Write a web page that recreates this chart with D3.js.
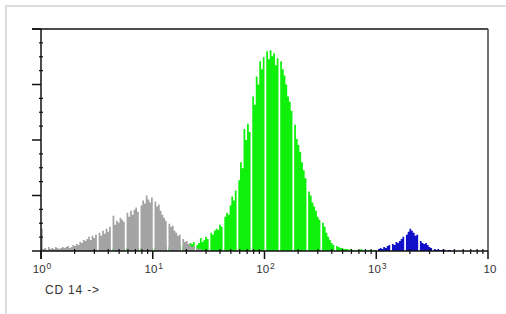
<!DOCTYPE html>
<html>
<head>
<meta charset="utf-8">
<script src="https://cdn.jsdelivr.net/npm/d3@7"></script>
<style>
  body { margin: 0; background: #fff; }
  svg { display: block; }
  text { font-family: "Liberation Sans", Arial, sans-serif; fill: #333; }
</style>
</head>
<body>
<div id="chart"></div>
<script>
// 256 log channels over 4 decades, counts
var channels = 256;
var decades = [1, 10, 100, 1000, 10000];
var axisLabel = "CD 14 ->";

var grayStart = 0;
var grayCounts = [44, 4, 6, 2, 8, 4,
  6, 4, 8, 6, 4, 6, 8,
  6, 8, 10, 6, 8, 12, 10,
  14, 12, 18, 16, 22, 20,
  24, 28, 22, 30, 26, 32, 0,
  36, 30, 40, 34, 44, 38, 48, 0,
  70, 52, 60, 56, 66, 62, 58, 0,
  76, 68, 80, 72, 82, 86, 78, 0,
  90, 100, 94, 110, 102, 96, 106, 0,
  98, 88, 92, 80, 72, 66, 60, 0,
  54, 48, 50, 40, 36, 30, 32, 0,
  24, 18, 20, 14, 12, 8, 10, 0,
  6, 4, 4, 2, 2];

var greenStart = 30;
var greenCounts = [2, 4, 0,
  4, 2, 6, 4, 4, 6, 4, 0,
  6, 4, 6, 4, 6, 6, 4, 0,
  6, 4, 6, 6, 4, 6, 6, 0,
  6, 6, 4, 6, 6, 8, 6, 0,
  6, 8, 6, 8, 8, 6, 10, 0,
  8, 10, 8, 10, 12, 10, 12, 0,
  10, 12, 14, 12, 16, 14, 18, 0,
  12, 16, 26, 18, 22, 28, 24, 0,
  36, 32, 40, 44, 42, 52, 48, 0,
  68, 76, 72, 90, 108, 100, 120, 0,
  140, 176, 164, 242, 220, 252, 236, 0,
  306, 290, 346, 330, 376, 360, 384, 0,
  396, 380, 398, 386, 392, 368, 382, 0,
  376, 360, 348, 330, 306, 296, 278, 0,
  250, 222, 210, 196, 176, 160, 144, 0,
  118, 110, 96, 88, 80, 68, 62, 0,
  56, 48, 36, 28, 22, 16, 12, 0,
  10, 8, 6, 6, 4, 4, 4,
  2, 4, 2, 2, 0, 2, 2, 4, 2, 0, 2, 2, 2, 0, 2, 2, 0];

var blueStart = 193;
var blueCounts = [4, 6, 4, 8, 6, 10, 12, 0,
  14, 12, 18, 16, 20, 24, 28, 0,
  32, 38, 44, 40, 36, 30, 32, 0,
  20, 16, 14, 16, 12, 8, 6, 0,
  4, 2, 4, 2, 2, 4, 2, 0, 2, 2];

var yMax = 440;
var yMajor = [0, 110, 220, 330, 440];

var W = 506, H = 314;
var plotLeft = 41, plotRight = 488, plotTop = 29, plotBottom = 251;

var svg = d3.select("#chart").append("svg")
  .attr("width", W)
  .attr("height", H);

// outer frame
svg.append("path")
  .attr("d", "M6,314V6H506")
  .attr("fill", "none")
  .attr("stroke", "#dcdcdc")
  .attr("stroke-width", 2);

var x = d3.scaleLog().domain([1, 10000]).range([plotLeft, plotRight]);
var y = d3.scaleLinear().domain([0, yMax]).range([plotBottom, plotTop]);

function edge(i) { return Math.pow(10, i * 4 / channels); }

function drawHist(start, counts, color) {
  var pts = counts.map(function (c, k) { return { i: start + k, c: c }; });
  pts.push({ i: start + counts.length, c: 0 });
  var area = d3.area()
    .x(function (d) { return x(edge(d.i)); })
    .y0(y(0))
    .y1(function (d) { return y(d.c); })
    .curve(d3.curveStepAfter);
  svg.append("path")
    .datum(pts)
    .attr("d", area)
    .attr("fill", color);
}

drawHist(greenStart, greenCounts, "#0ff00a");
drawHist(grayStart, grayCounts, "#a3a3a3");
drawHist(blueStart, blueCounts, "#1010c8");

// frame lines: top and right
svg.append("line")
  .attr("x1", plotLeft - 9).attr("x2", plotRight)
  .attr("y1", plotTop).attr("y2", plotTop)
  .attr("stroke", "#111").attr("stroke-width", 1.5);
svg.append("line")
  .attr("x1", plotRight).attr("x2", plotRight)
  .attr("y1", plotTop).attr("y2", plotBottom)
  .attr("stroke", "#444").attr("stroke-width", 1.5);

// x axis: major decades + minor 2..9
var minor = [];
decades.slice(0, -1).forEach(function (d) {
  for (var m = 2; m <= 9; m++) minor.push(d * m);
});

var xAxis = svg.append("g")
  .attr("transform", "translate(0," + plotBottom + ")");
xAxis.append("line")
  .attr("x1", plotLeft).attr("x2", plotRight)
  .attr("stroke", "#111").attr("stroke-width", 1.5);
xAxis.selectAll(".minor")
  .data(minor)
  .enter().append("line")
  .attr("x1", function (d) { return x(d); })
  .attr("x2", function (d) { return x(d); })
  .attr("y1", -2).attr("y2", 3)
  .attr("stroke", "#111").attr("stroke-width", 1.2);
xAxis.selectAll(".major")
  .data(decades)
  .enter().append("line")
  .attr("x1", function (d) { return x(d); })
  .attr("x2", function (d) { return x(d); })
  .attr("y1", 0).attr("y2", 8)
  .attr("stroke", "#111").attr("stroke-width", 1.5);

var labels = xAxis.selectAll(".lab")
  .data(decades)
  .enter().append("text")
  .attr("x", function (d, i) { return x(d) + (i == 4 ? 2 : 1); })
  .attr("y", 22)
  .attr("text-anchor", "middle")
  .style("font-size", "11.5px");
labels.append("tspan").text("10");
labels.filter(function (d, i) { return i < 4; })
  .append("tspan")
  .attr("dy", -4)
  .attr("dx", 1)
  .style("font-size", "8.5px")
  .text(function (d, i) { return i; });

svg.append("text")
  .attr("x", 45)
  .attr("y", 294)
  .style("font-size", "12px")
  .style("letter-spacing", "0.8px")
  .text(axisLabel);

// y axis
var yMinor = [];
for (var k = 0; k < yMajor.length - 1; k++) {
  for (var j = 1; j < 4; j++) yMinor.push(yMajor[k] + j * (yMajor[k + 1] - yMajor[k]) / 4);
}
var yAxis = svg.append("g");
yAxis.append("line")
  .attr("x1", plotLeft).attr("x2", plotLeft)
  .attr("y1", plotTop).attr("y2", plotBottom + 8)
  .attr("stroke", "#111").attr("stroke-width", 1.5);
yAxis.selectAll(".ymajor")
  .data(yMajor)
  .enter().append("line")
  .attr("x1", plotLeft - 9).attr("x2", plotLeft)
  .attr("y1", function (d) { return y(d); })
  .attr("y2", function (d) { return y(d); })
  .attr("stroke", "#111").attr("stroke-width", 1.5);
yAxis.selectAll(".yminor")
  .data(yMinor)
  .enter().append("line")
  .attr("x1", plotLeft - 2).attr("x2", plotLeft + 2)
  .attr("y1", function (d) { return y(d); })
  .attr("y2", function (d) { return y(d); })
  .attr("stroke", "#111").attr("stroke-width", 1.2);
</script>
</body>
</html>
